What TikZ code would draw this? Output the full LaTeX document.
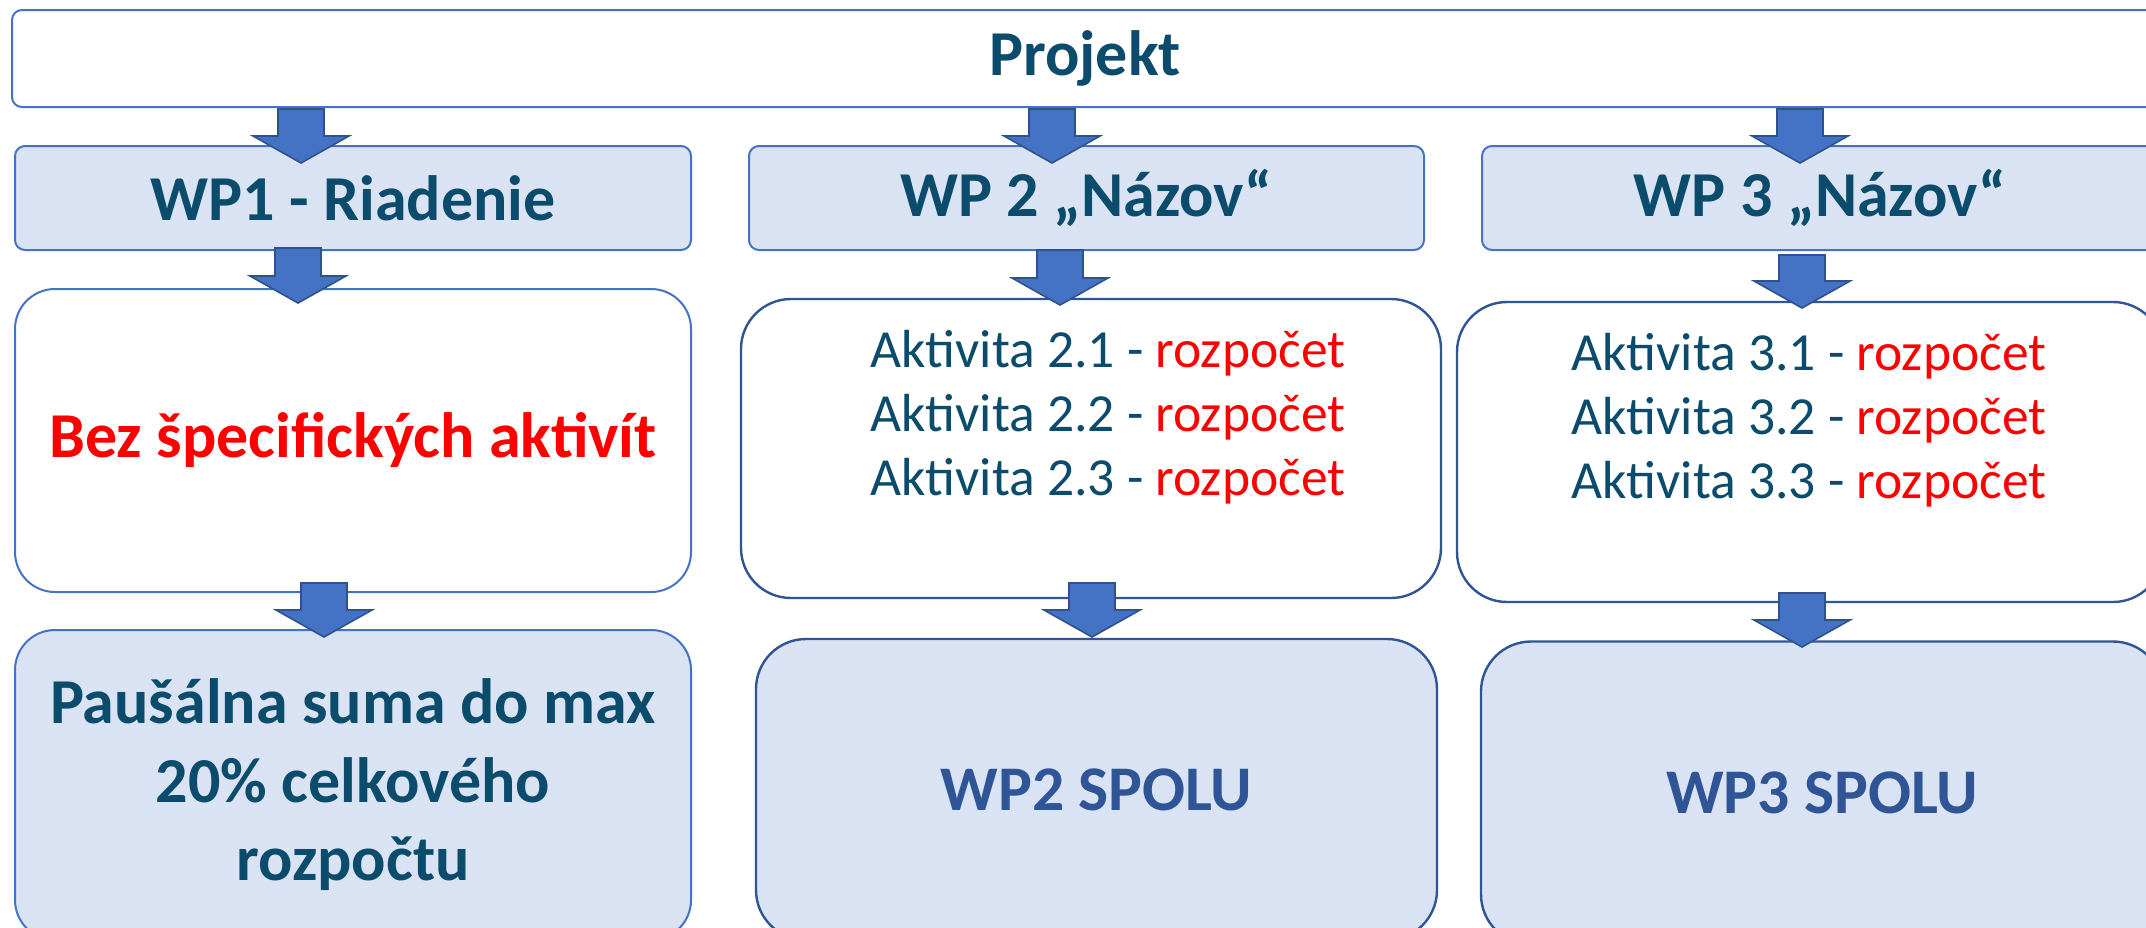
\documentclass[tikz,border=0pt]{standalone}
\usepackage{fontspec}
\setmainfont{Carlito}
\usetikzlibrary{calc}
\definecolor{txt}{HTML}{0B4B6B}
\definecolor{bdr}{HTML}{4472C4}
\definecolor{bdrd}{HTML}{2F5597}
\definecolor{lfill}{HTML}{DAE3F3}
\definecolor{spolu}{HTML}{2F5597}
\definecolor{arrfill}{HTML}{4472C4}
\definecolor{arrbdr}{HTML}{2F528F}
\definecolor{redt}{HTML}{FF0000}
\newcommand\blockarr[2]{%
  \path[blockarrow] let \p1=(#1), \p2=(#2) in
    (\x1-11.5pt,\y1) -- (\x1+11.5pt,\y1) -- (\x1+11.5pt,\y2+13.5pt) --
    (\x1+24pt,\y2+13.5pt) -- (\x1,\y2) -- (\x1-24pt,\y2+13.5pt) --
    (\x1-11.5pt,\y2+13.5pt) -- cycle;}
\begin{document}
\begin{tikzpicture}[x=0.5pt,y=-0.5pt,
  every node/.style={inner sep=0pt,outer sep=0pt},
  topbox/.style={draw=bdr,line width=1pt,fill=white,rounded corners=5pt},
  hdrbox/.style={draw=bdr,line width=1pt,fill=lfill,rounded corners=5pt},
  actbox/.style={draw=bdrd,line width=1.2pt,fill=white,rounded corners=25pt},
  wp1box/.style={draw=bdr,line width=1pt,fill=white,rounded corners=20pt},
  sumbox/.style={draw=bdrd,line width=1.2pt,fill=lfill,rounded corners=25pt},
  sum1box/.style={draw=bdr,line width=1pt,fill=lfill,rounded corners=20pt},
  headtxt/.style={text=txt,font=\fontsize{32}{36}\selectfont\bfseries},
  acttxt/.style={text=txt,align=center,font=\fontsize{26.8}{32}\selectfont},
  blockarrow/.style={fill=arrfill,draw=arrbdr,line width=0.8pt,line join=miter}
]
\useasboundingbox (0,0) rectangle (2146,927);
\clip (0,0) rectangle (2146,927);
% top
\node[topbox,minimum width=1073pt,minimum height=48.5pt,headtxt] (proj) at (1085,58.5) {Projekt};
% headers
\node[hdrbox,minimum width=338pt,minimum height=52pt,headtxt] (wp1) at (353,198) {WP1 - Riadenie};
\node[hdrbox,minimum width=337.5pt,minimum height=52pt,headtxt] (wp2) at (1086.5,198) {WP 2 „Názov“};
\node[hdrbox,minimum width=338pt,minimum height=52pt,headtxt] (wp3) at (1820,198) {WP 3 „Názov“};
% activity boxes
\node[wp1box,minimum width=338pt,minimum height=151.5pt,text=redt,font=\fontsize{32}{36}\selectfont\bfseries] (act1) at (353,440.5) {Bez špecifických aktivít};
\node[actbox,minimum width=350pt,minimum height=149.5pt] (act2) at (1091,448.5) {};
\node[actbox,minimum width=353pt,minimum height=150pt] (act3) at (1810,452) {};
\node[acttxt,anchor=base] (act2t) at (1108,495) {Aktivita 2.1 - \textcolor{redt}{rozpočet}\\Aktivita 2.2 - \textcolor{redt}{rozpočet}\\Aktivita 2.3 - \textcolor{redt}{rozpočet}};
\node[acttxt,anchor=base] (act3t) at (1809,498) {Aktivita 3.1 - \textcolor{redt}{rozpočet}\\Aktivita 3.2 - \textcolor{redt}{rozpočet}\\Aktivita 3.3 - \textcolor{redt}{rozpočet}};
% sums
\node[sum1box,minimum width=338pt,minimum height=155pt,text=txt,align=center,font=\fontsize{32}{39.25}\selectfont\bfseries] (sum1) at (353,785) {Paušálna suma do max\\20\% celkového\\rozpočtu};
\node[sumbox,minimum width=340.5pt,minimum height=150.5pt,text=spolu,font=\fontsize{31.8}{36}\selectfont\bfseries] (sum2) at (1096.5,789.5) {WP2 SPOLU};
\node[sumbox,minimum width=341pt,minimum height=151.5pt,text=spolu,font=\fontsize{31.8}{36}\selectfont\bfseries] (sum3) at (1822,793) {WP3 SPOLU};
% arrow endpoints
\coordinate (a1s) at (301,109);  \coordinate (a1e) at (301,163);
\coordinate (a2s) at (1052,109); \coordinate (a2e) at (1052,163);
\coordinate (a3s) at (1800,109); \coordinate (a3e) at (1800,163);
\coordinate (b1s) at (298,248);  \coordinate (b1e) at (298,303);
\coordinate (b2s) at (1060,250); \coordinate (b2e) at (1060,305);
\coordinate (b3s) at (1802,255); \coordinate (b3e) at (1802,308);
\coordinate (c1s) at (324,583);  \coordinate (c1e) at (324,637);
\coordinate (c2s) at (1092,583); \coordinate (c2e) at (1092,637);
\coordinate (c3s) at (1802,593); \coordinate (c3e) at (1802,647);
\blockarr{a1s}{a1e}\blockarr{a2s}{a2e}\blockarr{a3s}{a3e}
\blockarr{b1s}{b1e}\blockarr{b2s}{b2e}\blockarr{b3s}{b3e}
\blockarr{c1s}{c1e}\blockarr{c2s}{c2e}\blockarr{c3s}{c3e}
\end{tikzpicture}
\end{document}
